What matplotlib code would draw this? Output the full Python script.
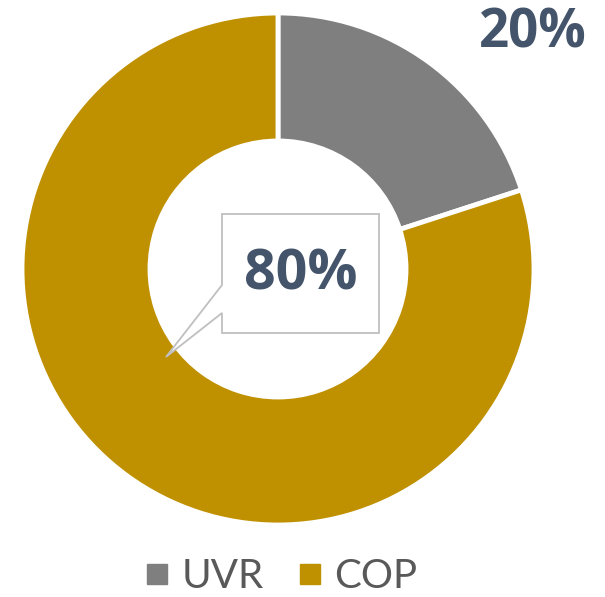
import matplotlib
matplotlib.use("Agg")
import matplotlib.pyplot as plt
from matplotlib.patches import Polygon
from matplotlib.lines import Line2D

categories = ["UVR", "COP"]
values = [20, 80]
colors = ["#7F7F7F", "#BF9000"]
labels = ["20%", "80%"]

W, H = 605, 597
fig = plt.figure(figsize=(W / 100, H / 100), dpi=100)
ax = fig.add_axes([0, 0, 1, 1])

cx, cy, R = 278, H - 269, 256
wedges, _ = ax.pie(values, colors=colors, startangle=90, counterclock=False,
                   center=(cx, cy), radius=R, explode=[0.03, 0],
                   wedgeprops=dict(width=R * 0.50, edgecolor="white", linewidth=3.5),
                   frame=True)
ax.set_xlim(0, W)
ax.set_ylim(0, H)
ax.set_aspect("equal")
ax.axis("off")

txtcol = "#44546A"
fam = ["Open Sans", "DejaVu Sans"]
ax.text(533, H - 34, labels[0], ha="center", va="center", fontsize=38,
        fontweight="bold", color=txtcol, family=fam)

# callout for 80%
pts = [(222, 214), (379, 214), (379, 333), (222, 333), (222, 313),
       (166, 357), (222, 285)]
poly = Polygon([(x, H - y) for x, y in pts], closed=True, facecolor="white",
               edgecolor="#BFBFBF", linewidth=1.3, zorder=5)
ax.add_patch(poly)
ax.text(301, H - 275, labels[1], ha="center", va="center", fontsize=40,
        fontweight="bold", color=txtcol, family=fam, zorder=6)

handles = [Line2D([], [], marker="s", linestyle="none", markersize=14,
                  markerfacecolor=c, markeredgecolor=c) for c in colors]
leg = ax.legend(handles, categories, loc="lower center", ncol=2,
                bbox_to_anchor=(0.465, -0.058), frameon=False,
                prop=dict(family="Lato", size=29), labelcolor="#595959",
                handletextpad=0.3, columnspacing=0.85, handlelength=0.6)

fig.savefig("out.png", dpi=100)
